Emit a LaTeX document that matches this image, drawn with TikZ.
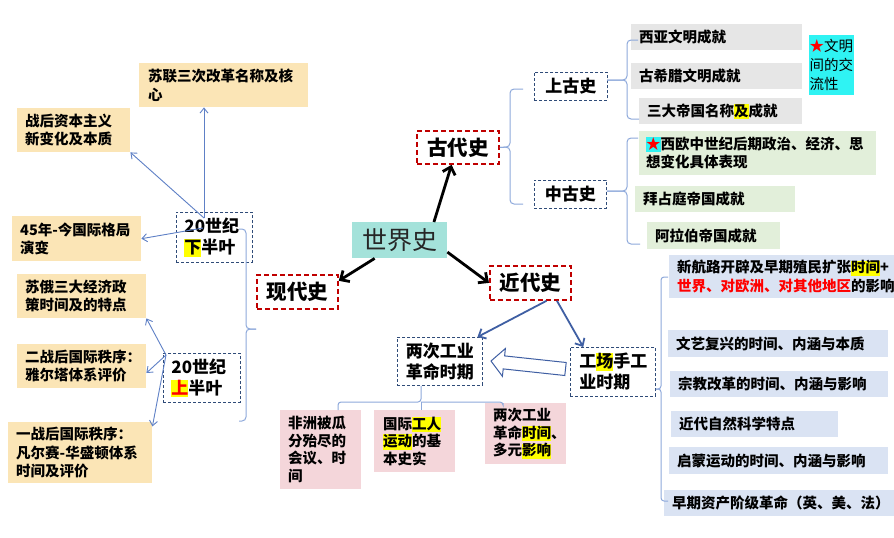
\documentclass[tikz,border=0pt]{standalone}
\usepackage{fontspec}
\setmainfont{Noto Sans CJK SC}
\usetikzlibrary{arrows.meta,calc}
\definecolor{cTan}{HTML}{FBE5B6}
\definecolor{cGry}{HTML}{E6E6E6}
\definecolor{cGrn}{HTML}{E2EFDA}
\definecolor{cBgr}{HTML}{DAE3F3}
\definecolor{cPnk}{HTML}{F4D6DA}
\definecolor{cCyn}{HTML}{2FF3F3}
\definecolor{cWld}{HTML}{A4E2DA}
\definecolor{cHl}{HTML}{FFFF00}
\definecolor{cDred}{HTML}{C00000}
\definecolor{cNavy}{HTML}{2F4B78}
\definecolor{cBrk}{HTML}{8EA9DB}
\definecolor{cArrb}{HTML}{3F5FA3}
\definecolor{cThin}{HTML}{5E80C6}
\definecolor{cRed}{HTML}{FF0000}
\newcommand\hlt[1]{{\setlength{\fboxsep}{0pt}\colorbox{cHl}{\rule[-0.2em]{0pt}{1.05em}#1}}}
\newcommand\hlc[1]{{\setlength{\fboxsep}{0pt}\colorbox{cCyn}{\rule[-0.2em]{0pt}{1.05em}#1}}}
\begin{document}
\begin{tikzpicture}[x=1pt,y=-1pt,
  itm/.style={anchor=north west, inner xsep=8pt, inner ysep=0pt, align=left,
    font=\bfseries\fontsize{14.5}{18.5}\selectfont, text=black},
  pnkbox/.style={itm, fill=cPnk, font=\bfseries\fontsize{14.5}{17.5}\selectfont},
  redbox/.style={anchor=north west, draw=cDred, line width=1.8pt, dash pattern=on 5pt off 3pt,
    minimum width=81pt, minimum height=34pt, inner sep=0pt, font=\bfseries\fontsize{20.5}{24}\selectfont},
  navybox/.style={anchor=north west, draw=cNavy, line width=0.8pt, dash pattern=on 3pt off 2pt,
    inner sep=0pt, font=\bfseries\fontsize{17}{21}\selectfont},
  brk/.style={draw=cBrk, line width=1pt, rounded corners=4pt},
  blk/.style={-{Straight Barb[length=7pt,width=13pt]}, line width=2.8pt, black},
  blu/.style={-{Straight Barb[length=6pt,width=11pt]}, line width=1.8pt, draw=cArrb},
  thn/.style={-{Straight Barb[length=5pt,width=8pt]}, line width=0.9pt, draw=cThin},
  hollow/.style={draw=cArrb, fill=white, line width=1pt, line join=miter}
]
\useasboundingbox (0,0) rectangle (894,538);
\fill[white] (0,0) rectangle (894,538);
\clip (0,0) rectangle (894,538);

% centre
\node[anchor=north west, fill=cWld, minimum width=95pt, minimum height=36pt, inner sep=0pt,
  font=\fontsize{25}{28}\selectfont, text=black!85] (world) at (352,222) {世界史};

\node[redbox, minimum width=82pt, minimum height=33pt] (gudai) at (416,130) {古代史};
\node[redbox] (xiandai) at (256,274) {现代史};
\node[redbox] (jindai) at (489,265) {近代史};

\draw[blk] (world.28) -- (gudai.250);
\draw[blk] (world.216) -- (xiandai.15);
\draw[blk] (world.346) -- (jindai.west);

% ---------- ancient ----------
\node[navybox, minimum width=73pt, minimum height=28pt] (shanggu) at (534,72) {上古史};
\node[navybox, minimum width=72pt, minimum height=28pt] (zhonggu) at (534,180) {中古史};

\draw[brk] (523,89) -- (510,89) -- (510,147) -- (gudai.east);
\draw[brk] (gudai.east) -- (510,147) -- (510,204) -- (523,204);

\node[itm, fill=cGry, text width=155pt, minimum height=26pt] (xiya) at (631,24) {西亚文明成就};
\node[itm, fill=cGry, text width=155pt, minimum height=26pt] (xila) at (631,63) {古希腊文明成就};
\node[itm, fill=cGry, text width=147pt, minimum height=26pt] (sanda) at (639,98) {三大帝国名称\hlt{及}成就};
\node[itm, fill=cCyn, inner xsep=0.5pt, text width=44pt, minimum height=60pt,
  font=\fontsize{14.5}{19}\selectfont] (wenming) at (809,35) {\textcolor{cRed}{★}文明\\间的交\\流性};

\draw[brk] (607,80) -- (627,80) -- (627,40) -- (638,40);
\draw[brk] (607,80) -- (627,80) -- (627,119) -- (639,119);

\node[itm, fill=cGrn, inner xsep=7pt, text width=223pt, minimum height=44pt] (xiou) at (639,131)
  {\hlc{\textcolor{cRed}{★}}西欧中世纪后期政治、经济、思\\想变化具体表现};
\node[itm, fill=cGrn, text width=144pt, minimum height=26pt] (baizhan) at (635,186) {拜占庭帝国成就};
\node[itm, fill=cGrn, text width=117pt, minimum height=27pt] (alabo) at (647,222) {阿拉伯帝国成就};

\draw[brk] (zhonggu.east |- 0,191) -- (627,191) -- (627,138) -- (638,138);
\draw[brk] (zhonggu.east |- 0,191) -- (627,191) -- (627,244) -- (640,244);

% ---------- modern (jindai) ----------
\node[navybox, minimum width=85pt, minimum height=48pt, align=center] (liangci) at (397,337) {两次工业\\革命时期};
\node[navybox, minimum width=85pt, minimum height=49pt, text width=67pt, inner xsep=9pt, align=left] (gongchang) at (570,347) {工\hlt{场}手工\\业时期};

\draw[blu] (jindai.312) -- (liangci.33);
\draw[blu] (jindai.326) -- (gongchang.140);
% hollow block arrow from gongchang to liangci
\draw[hollow] (491,361) -- (505.4,348.5) -- (504.6,355.9) -- (566.2,362.5)
  -- (564.8,375.5) -- (503.2,368.9) -- (502.4,376.3) -- cycle;

\node[pnkbox, text width=65pt, minimum height=79pt] (feizhou) at (280,410) {非洲被瓜\\分殆尽的\\会议、时\\间};
\node[pnkbox, inner xsep=9pt, text width=63pt, minimum height=62pt] (gongren) at (374,410) {国际\hlt{工人}\\\hlt{运动}的基\\本史实};
\node[pnkbox, text width=65pt, minimum height=61pt] (liangzhi) at (485,403) {两次工业\\革命\hlt{时间}、\\多元\hlt{影响}};

\coordinate (tl) at (338,402);
\coordinate (tm) at (421,402);
\coordinate (tr) at (503,402);
\draw[brk, rounded corners=3pt] (tm |- liangci.south) -- (tm) -- (tl) -- (tl |- feizhou.north);
\draw[brk, rounded corners=3pt] (tm) -- (tr) -- (tr |- liangzhi.north);
\draw[brk] (tm) -- (tm |- gongren.north);

\node[itm, fill=cBgr, text width=240pt, minimum height=43pt] (xinhanglu) at (669,255)
  {新航路开辟及早期殖民扩张\hlt{时间}+\\\textcolor{cRed}{世界、对欧洲、对其他地区}的影响};
\node[itm, fill=cBgr, text width=204pt, minimum height=27pt] (wenyi) at (668,330) {文艺复兴的时间、内涵与本质};
\node[itm, fill=cBgr, text width=202pt, minimum height=26pt] (zongjiao) at (670,371) {宗教改革的时间、内涵与影响};
\node[itm, fill=cBgr, text width=151pt, minimum height=26pt] (ziran) at (671,411) {近代自然科学特点};
\node[itm, fill=cBgr, text width=203pt, minimum height=27pt] (qimeng) at (669,447) {启蒙运动的时间、内涵与影响};
\node[itm, fill=cBgr, text width=240pt, minimum height=26pt] (zichan) at (664,490) {早期资产阶级革命（英、美、法）};

\draw[brk, rounded corners=3pt] (gongchang.east |- 0,389) -- (661,389) -- (661,277) -- (668,277);
\draw[brk, rounded corners=3pt] (gongchang.east |- 0,389) -- (661,389) -- (661,501) -- (668,501);

% ---------- contemporary (xiandai) ----------
\node[navybox, minimum height=50pt, text width=60pt, inner xsep=8pt, align=left] (xiaban) at (176,212) {20世纪\\\hlt{下}半叶};
\node[navybox, minimum height=49pt, text width=61pt, inner xsep=8pt, align=left] (shangban) at (163,353) {20世纪\\\hlt{\textcolor{cRed}{上}}半叶};

\draw[brk] (xiandai.west |- 0,329) -- (246,329) -- (246,229) -- (239,229);
\draw[brk] (xiandai.west |- 0,329) -- (246,329) -- (246,421) -- (239,421);

\node[itm, fill=cTan, inner xsep=9pt, text width=151pt, minimum height=44pt] (sulian) at (139,63) {苏联三次改革名称及核\\心};
\node[itm, fill=cTan, text width=97pt, minimum height=44pt] (zhanhou) at (17,108) {战后资本主义\\新变化及本质};
\node[itm, fill=cTan, text width=113pt, minimum height=45pt] (geju) at (12,216) {45年-今国际格局\\演变};
\node[itm, fill=cTan, text width=113pt, minimum height=44pt] (sue) at (17,274) {苏俄三大经济政\\策时间及的特点};
\node[itm, fill=cTan, text width=113pt, minimum height=44pt] (erzhan) at (17,344) {二战后国际秩序：\\雅尔塔体系评价};
\node[itm, fill=cTan, text width=128pt, minimum height=61pt] (yizhan) at (8,422) {一战后国际秩序：\\凡尔赛-华盛顿体系\\时间及评价};

\coordinate (xo) at (204,218);
\coordinate (xo2) at (203,228);
\coordinate (so) at (166,355);
\draw[thn] (xo) -- (xo |- sulian.south);
\draw[thn] (xo) -- (zhanhou.south east);
\draw[thn] (xo2) -- (geju.east);
\draw[thn] (so) -- (sue.south east);
\draw[thn] (so) -- (erzhan.-6);
\draw[thn] (so) -- (yizhan.20);
\end{tikzpicture}
\end{document}
